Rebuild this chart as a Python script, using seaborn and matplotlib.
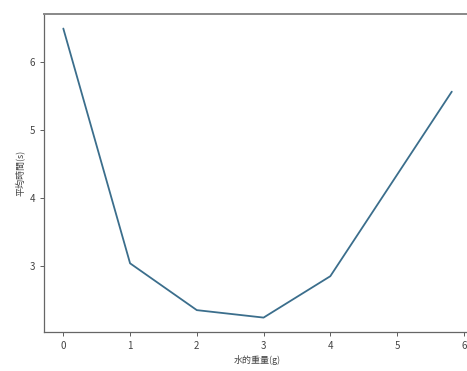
import matplotlib
matplotlib.use("Agg")
import matplotlib.pyplot as plt
import seaborn as sns
import pandas as pd

water_g = [0, 1, 2, 3, 4, 5.82]
avg_time_s = [6.5, 3.04, 2.35, 2.24, 2.85, 5.57]

df = pd.DataFrame({"water": water_g, "time": avg_time_s})

sns.set_style("ticks")
plt.rcParams["font.family"] = ["Noto Sans CJK TC", "DejaVu Sans"]

fig = plt.figure(figsize=(4.67, 3.71), dpi=100)
ax = fig.add_axes([0.094, 0.105, 0.915, 0.857])
sns.lineplot(data=df, x="water", y="time", ax=ax, color="#3b6e8c", linewidth=1.3)

ax.set_xticks([0, 1, 2, 3, 4, 5, 6])
ax.set_yticks([3, 4, 5, 6])
ax.tick_params(labelsize=7, length=3, width=0.6, colors="#444444")
ax.set_xlabel("水的重量(g)", fontsize=6.5, color="#444444", labelpad=3)
ax.set_ylabel("平均時間(s)", fontsize=6.5, color="#444444", labelpad=3)
for s in ax.spines.values():
    s.set_color("#666666")
    s.set_linewidth(0.9)
ax.spines["top"].set_linewidth(1.4)
ax.spines["top"].set_color("#888888")
ax.spines["right"].set_visible(False)

plt.savefig("out.png", dpi=100)
